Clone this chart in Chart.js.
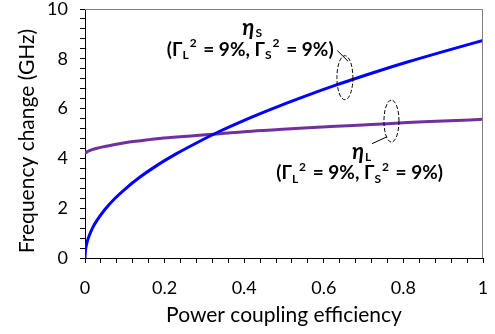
<!DOCTYPE html>
<html>
<head>
<meta charset="utf-8">
<script src="https://cdn.jsdelivr.net/npm/chart.js@4.4.0/dist/chart.umd.min.js"></script>
<style>
  html, body { margin: 0; padding: 0; background: #fff; }
  #wrap { width: 495px; height: 334px; }
</style>
</head>
<body>
<div id="wrap"><canvas id="chart" width="495" height="334"></canvas></div>
<script>
    // Data
    const efficiency = [0, 0.001, 0.003, 0.006, 0.01, 0.02, 0.03, 0.05, 0.075, 0.1, 0.14, 0.18, 0.23, 0.28, 0.34, 0.4, 0.47, 0.55, 0.63, 0.72, 0.81, 0.9, 1.0];
    const etaS = [0, 0.28, 0.48, 0.68, 0.87, 1.24, 1.51, 1.95, 2.39, 2.76, 3.27, 3.71, 4.19, 4.62, 5.1, 5.53, 5.99, 6.48, 6.94, 7.42, 7.87, 8.29, 8.74];
    const etaL = [4.2, 4.22, 4.24, 4.27, 4.3, 4.36, 4.41, 4.48, 4.56, 4.63, 4.71, 4.79, 4.86, 4.92, 4.99, 5.07, 5.14, 5.22, 5.29, 5.36, 5.44, 5.5, 5.57];
    const xTickLabels = ['0', '0.2', '0.4', '0.6', '0.8', '1'];
    const yTickLabels = ['0', '2', '4', '6', '8', '10'];

    const FONT = 'Lato, "Open Sans", sans-serif';

    function toPoints(xs, ys) {
        return xs.map((x, i) => ({ x: x, y: ys[i] }));
    }

    // Draw a line of text with sub/superscripts, centered at cx
    function drawRich(ctx, parts, cx, y) {
        let total = 0;
        parts.forEach(p => {
            ctx.font = p.f;
            total += ctx.measureText(p.t).width + (p.gap || 0);
        });
        let x = cx - total / 2;
        ctx.textBaseline = 'middle';
        ctx.textAlign = 'left';
        parts.forEach(p => {
            ctx.font = p.f;
            ctx.fillText(p.t, x, y + (p.dy || 0));
            x += ctx.measureText(p.t).width + (p.gap || 0);
        });
    }

    const big = 'bold 19px ' + FONT;
    const small = 'bold 12px ' + FONT;
    const eta = 'bold italic 22px ' + FONT;

    function gammaLine() {
        return [
            { t: '(Γ', f: big },
            { t: 'L', f: small, dy: 6, gap: 1 },
            { t: '2', f: small, dy: -6, gap: 2 },
            { t: ' = 9%, Γ', f: big },
            { t: 'S', f: small, dy: 6, gap: 1 },
            { t: '2', f: small, dy: -6, gap: 2 },
            { t: ' = 9%)', f: big }
        ];
    }

    // Frame, y title, dashed ellipses and labels
    const annotations = {
        id: 'annotations',
        afterDatasetsDraw(chart) {
            const { ctx, chartArea, scales } = chart;
            const px = v => scales.x.getPixelForValue(v);
            const py = v => scales.y.getPixelForValue(v);
            ctx.save();

            // top and right frame
            ctx.strokeStyle = '#808080';
            ctx.lineWidth = 1;
            ctx.beginPath();
            ctx.moveTo(chartArea.left, chartArea.top + 0.5);
            ctx.lineTo(chartArea.right - 0.5, chartArea.top + 0.5);
            ctx.lineTo(chartArea.right - 0.5, chartArea.bottom);
            ctx.stroke();

            // y axis title (drawn by hand to sit where the source has it)
            ctx.save();
            ctx.translate(27, chartArea.bottom - 117);
            ctx.rotate(-Math.PI / 2);
            ctx.font = '21px ' + FONT;
            ctx.fillStyle = '#000';
            ctx.textAlign = 'center';
            ctx.textBaseline = 'middle';
            ctx.fillText('Frequency change (GHz)', 0, 0);
            ctx.restore();

            ctx.strokeStyle = '#000';
            ctx.lineWidth = 1;

            // dashed ellipses
            ctx.setLineDash([4, 2]);
            ctx.beginPath();
            ctx.ellipse(px(0.653), py(7.24), 8, 22, 0, 0, Math.PI * 2);
            ctx.stroke();
            ctx.beginPath();
            ctx.ellipse(px(0.77), py(5.5), 7.5, 21, 0, 0, Math.PI * 2);
            ctx.stroke();
            ctx.setLineDash([]);

            // leader lines
            ctx.beginPath();
            ctx.moveTo(px(0.634), py(8.33));
            ctx.lineTo(px(0.661), py(7.9));
            ctx.stroke();
            ctx.beginPath();
            ctx.moveTo(px(0.721), py(4.59));
            ctx.lineTo(px(0.759), py(4.87));
            ctx.stroke();

            ctx.fillStyle = '#000';
            // eta_S label
            drawRich(ctx, [
                { t: 'η', f: eta, gap: 1 },
                { t: 'S', f: small, dy: 5 }
            ], px(0.42), py(9.25));
            drawRich(ctx, gammaLine(), px(0.415), py(8.37));

            // eta_L label
            drawRich(ctx, [
                { t: 'η', f: eta, gap: 1 },
                { t: 'L', f: small, dy: 5 }
            ], px(0.695), py(4.27));
            drawRich(ctx, gammaLine(), px(0.69), py(3.42));

            ctx.restore();
        }
    };

    const ctx = document.getElementById('chart').getContext('2d');
    new Chart(ctx, {
        type: 'line',
        data: {
            datasets: [{
                label: 'eta_S',
                data: toPoints(efficiency, etaS),
                borderColor: '#0000FF',
                borderWidth: 3,
                pointRadius: 0,
                cubicInterpolationMode: 'monotone',
                fill: false
            }, {
                label: 'eta_L',
                data: toPoints(efficiency, etaL),
                borderColor: '#7030A0',
                borderWidth: 3,
                pointRadius: 0,
                cubicInterpolationMode: 'monotone',
                fill: false
            }]
        },
        options: {
            responsive: false,
            animation: false,
            layout: { padding: 0 },
            plugins: {
                legend: { display: false },
                tooltip: { enabled: false }
            },
            scales: {
                x: {
                    type: 'linear',
                    min: 0,
                    max: 1,
                    afterBuildTicks(axis) {
                        axis.ticks = [];
                        for (let i = 0; i <= 25; i++) axis.ticks.push({ value: i * 0.04 });
                    },
                    afterFit(axis) {
                        axis.height = 76;
                        axis.paddingLeft = 0;
                        axis.paddingRight = 12;
                    },
                    grid: {
                        drawOnChartArea: false,
                        tickLength: 5,
                        color: '#000'
                    },
                    border: { color: '#000', width: 1 },
                    ticks: {
                        autoSkip: false,
                        maxRotation: 0,
                        padding: 14,
                        color: '#000',
                        font: { family: FONT, size: 18 },
                        callback: function (value, index) {
                            return index % 5 === 0 ? xTickLabels[index / 5] : '';
                        }
                    },
                    title: {
                        display: true,
                        text: 'Power coupling efficiency',
                        color: '#000',
                        font: { family: FONT, size: 21 },
                        padding: { top: 4, bottom: 6 }
                    }
                },
                y: {
                    type: 'linear',
                    min: 0,
                    max: 10,
                    afterBuildTicks(axis) {
                        axis.ticks = [];
                        for (let i = 0; i <= 25; i++) axis.ticks.push({ value: i * 0.4 });
                    },
                    afterFit(axis) {
                        axis.width = 85;
                        axis.paddingTop = 9;
                        axis.paddingBottom = 0;
                    },
                    grid: {
                        drawOnChartArea: false,
                        tickLength: 5,
                        color: '#000'
                    },
                    border: { color: '#000', width: 1 },
                    ticks: {
                        autoSkip: false,
                        padding: 12,
                        color: '#000',
                        font: { family: FONT, size: 18 },
                        callback: function (value, index) {
                            return index % 5 === 0 ? yTickLabels[index / 5] : '';
                        }
                    },
                    title: { display: false }
                }
            }
        },
        plugins: [annotations]
    });
</script>
</body>
</html>
